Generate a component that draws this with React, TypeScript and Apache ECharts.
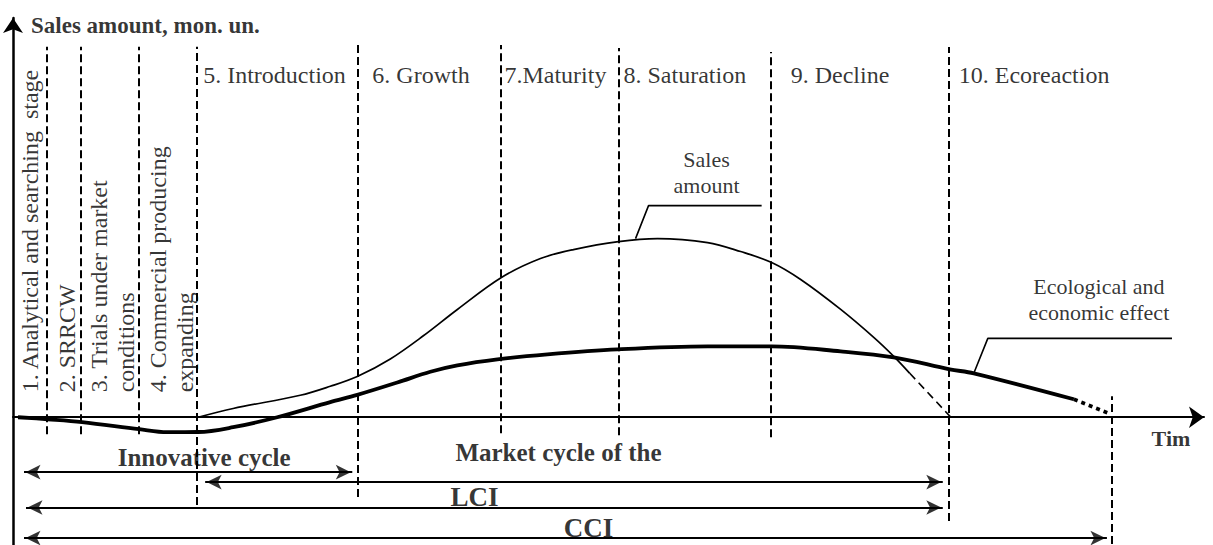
import React, { useEffect, useRef } from 'react';
import * as echarts from 'echarts';

const FONT = 'Liberation Serif, Times New Roman, serif';

// Sales amount curve (thin)
const salesX = [18.5, 22, 28.7, 31.7, 34.4, 37.7, 41, 44.4, 48.8, 52.7, 56, 60.5, 64.4, 69.4, 72.7, 75.8, 78.7, 82.7, 86, 88, 89.6];
const salesY = [0, 2.2, 5.5, 7.75, 10.2, 14.6, 20.4, 27, 35, 39.75, 42, 44, 44.75, 43.75, 41.5, 38.75, 34.5, 27, 20, 15.25, 11];
const salesTailX = [89.6, 93.7];
const salesTailY = [11, 0];

// Ecological and economic effect curve (thick)
const ecoX = [0.5, 3.5, 6.9, 12.6, 15.4, 18.5, 22, 26.4, 31.7, 34.4, 38.4, 41.7, 44.4, 48.4, 53.4, 60.4, 69.4, 75.8, 82.7, 88, 93.6, 96, 106];
const ecoY = [0, -0.5, -1.2, -3, -3.75, -3.7, -2.5, 0, 3.8, 5.6, 8.7, 11.4, 13, 14.5, 15.75, 17, 17.75, 17.75, 16.5, 15, 12, 11, 4.5];
const ecoTailX = [106, 109.7];
const ecoTailY = [4.5, 0.75];

// Stage names
const stageNames = ['5. Introduction', '6. Growth', '7.Maturity', '8. Saturation', '9. Decline', '10. Ecoreaction'];
const stageX = [19.0, 35.9, 49.1, 61.0, 77.7, 94.5];
const stageY = 85.7;

const earlyStageNames = [
  '1. Analytical and searching  stage',
  '2. SRRCW',
  '3. Trials under market\nconditions',
  '4. Commercial producing\nexpanding',
];
const earlyStageX = [1.72, 5.39, 9.98, 15.81];
const earlyStageY = 6.25;

// Stage dividers (dashed)
const dividerX = [3.4, 6.8, 12.6, 18.4, 34.4, 48.7, 60.5, 75.7, 93.5, 109.8];
const dividerBottom = [-4.25, -4.25, -4.25, -22, -20, -4, -4.5, -5, -26, -31.75];
const dividerTop = [92.8, 92.8, 92.8, 92.8, 93.25, 93.25, 92.5, 91.5, 92.75, 5.25];

// Cycle spans (double arrows)
const spanNames = ['Innovative cycle', 'Market cycle of the', 'LCI', 'CCI'];
const spanStart = [0.5, 18.6, 0.7, 0.5];
const spanEnd = [34.5, 93.5, 93.5, 109.9];
const spanY = [-13.75, -16.25, -22.6, -30.25];
const spanLabelX = [19.1, 54.5, 46.1, 57.5];
const spanLabelY = [-10.2, -8.8, -19.9, -27.7];
const spanLabelSize = [25, 25, 27, 27];

// Annotation leaders
const salesLeaderX = [62.2, 63.5, 74.8];
const salesLeaderY = [44.75, 53, 53];
const ecoLeaderX = [96, 97.4, 115.8];
const ecoLeaderY = [11, 19.75, 19.75];
const annotationNames = ['Sales\namount', 'Ecological and\neconomic effect'];
const annotationX = [69.3, 108.5];
const annotationY = [61.35, 29.5];

const yAxisTitle = 'Sales amount, mon. un.';
const yAxisTitlePos = [1.8, 98.1];
const xAxisTitle = 'Tim';
const xAxisTitlePos = [115.7, -5.4];

const zip = (xs: number[], ys: number[]) => xs.map((x, i) => [x, ys[i]]);

export default function App() {
  const ref = useRef<HTMLDivElement>(null);
  useEffect(() => {
    if (!ref.current) return;
    const chart = echarts.init(ref.current, null, { renderer: 'svg' });

    const baseText = { color: '#000', fontFamily: FONT };
    const labelItems: any[] = [];
    stageNames.forEach((n, i) =>
      labelItems.push({
        value: [stageX[i], stageY],
        label: { ...baseText, formatter: n, align: 'left', verticalAlign: 'middle', fontSize: 24 },
      })
    );
    earlyStageNames.forEach((n, i) =>
      labelItems.push({
        value: [earlyStageX[i], earlyStageY],
        label: { ...baseText, formatter: n, rotate: 90, align: 'left', verticalAlign: 'middle', fontSize: 24, lineHeight: 27 },
      })
    );
    spanNames.forEach((n, i) =>
      labelItems.push({
        value: [spanLabelX[i], spanLabelY[i]],
        label: { ...baseText, formatter: n, align: 'center', verticalAlign: 'middle', fontSize: spanLabelSize[i], fontWeight: 'bold' },
      })
    );
    annotationNames.forEach((n, i) =>
      labelItems.push({
        value: [annotationX[i], annotationY[i]],
        label: { ...baseText, formatter: n, align: 'center', verticalAlign: 'middle', fontSize: 22, lineHeight: 26 },
      })
    );
    labelItems.push({
      value: yAxisTitlePos,
      label: { ...baseText, formatter: yAxisTitle, align: 'left', verticalAlign: 'middle', fontSize: 23, fontWeight: 'bold' },
    });
    labelItems.push({
      value: xAxisTitlePos,
      label: { ...baseText, formatter: xAxisTitle, align: 'center', verticalAlign: 'middle', fontSize: 22, fontWeight: 'bold' },
    });

    // arrowheads at both ends of every span
    const arrowHeads: any[] = [];
    spanStart.forEach((s, i) => {
      arrowHeads.push({ value: [s, spanY[i]], symbolRotate: 90, symbolOffset: [7.5, 0] });
      arrowHeads.push({ value: [spanEnd[i], spanY[i]], symbolRotate: -90, symbolOffset: [-7.5, 0] });
    });

    chart.setOption({
      animation: false,
      backgroundColor: '#fff',
      grid: { left: 13, top: 18, width: 1191, height: 528 },
      xAxis: {
        type: 'value',
        min: 0,
        max: 119,
        axisLine: {
          show: true,
          onZero: true,
          symbol: ['none', 'arrow'],
          symbolSize: [16, 15],
          lineStyle: { color: '#000', width: 2 },
        },
        axisTick: { show: false },
        axisLabel: { show: false },
        splitLine: { show: false },
      },
      yAxis: {
        type: 'value',
        min: -32,
        max: 100,
        axisLine: {
          show: true,
          symbol: ['none', 'arrow'],
          symbolSize: [15, 15],
          lineStyle: { color: '#000', width: 2.5 },
        },
        axisTick: { show: false },
        axisLabel: { show: false },
        splitLine: { show: false },
      },
      series: [
        {
          type: 'line',
          data: zip(salesX, salesY),
          smooth: 0.35,
          symbol: 'none',
          silent: true,
          lineStyle: { color: '#000', width: 1.7 },
          markLine: {
            silent: true,
            symbol: ['none', 'none'],
            label: { show: false },
            emphasis: { disabled: true },
            lineStyle: { color: '#000', width: 2, type: [8, 4] },
            data: dividerX.map((x, i) => [
              { coord: [x, dividerBottom[i]] },
              { coord: [x, dividerTop[i]] },
            ]),
          },
        },
        {
          type: 'line',
          data: zip(salesTailX, salesTailY),
          symbol: 'none',
          silent: true,
          lineStyle: { color: '#000', width: 1.6, type: [8, 5] },
        },
        {
          type: 'line',
          data: zip(ecoX, ecoY),
          smooth: 0.35,
          symbol: 'none',
          silent: true,
          lineStyle: { color: '#000', width: 3.8 },
          markLine: {
            silent: true,
            symbol: ['none', 'none'],
            label: { show: false },
            emphasis: { disabled: true },
            lineStyle: { color: '#000', width: 2.2, type: 'solid' },
            data: spanStart.map((s, i) => [
              { coord: [s + 0.6, spanY[i]] },
              { coord: [spanEnd[i] - 0.6, spanY[i]] },
            ]),
          },
        },
        {
          type: 'line',
          data: zip(ecoTailX, ecoTailY),
          symbol: 'none',
          silent: true,
          lineStyle: { color: '#000', width: 3.6, type: [4, 4] },
        },
        {
          type: 'line',
          data: zip(salesLeaderX, salesLeaderY),
          symbol: 'none',
          silent: true,
          lineStyle: { color: '#000', width: 1.6 },
        },
        {
          type: 'line',
          data: zip(ecoLeaderX, ecoLeaderY),
          symbol: 'none',
          silent: true,
          lineStyle: { color: '#000', width: 1.6 },
        },
        {
          type: 'scatter',
          data: arrowHeads,
          symbol: 'arrow',
          symbolSize: [11, 15],
          silent: true,
          clip: false,
          z: 9,
          itemStyle: { color: '#000' },
        },
        {
          type: 'scatter',
          data: labelItems,
          symbol: 'circle',
          symbolSize: 1,
          silent: true,
          z: 10,
          itemStyle: { color: 'rgba(0,0,0,0)' },
          label: { show: true, position: 'inside' },
        },
      ],
    });

    return () => chart.dispose();
  }, []);

  return (
    <div
      ref={ref}
      style={{ position: 'fixed', left: 0, top: 0, width: 1213, height: 545, background: '#fff' }}
    />
  );
}
